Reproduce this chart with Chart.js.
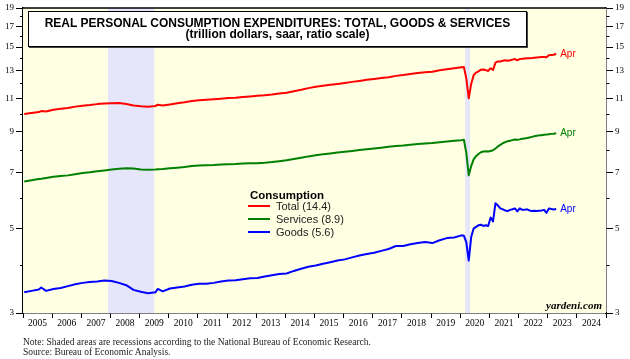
<!DOCTYPE html>
<html>
<head>
<meta charset="utf-8">
<script src="https://cdn.jsdelivr.net/npm/chart.js@4/dist/chart.umd.min.js"></script>
<style>
  body { margin: 0; background: #fff; }
  #wrap { position: relative; width: 630px; height: 359px; overflow: hidden; }
  #c { position: absolute; left: 0; top: 0; }
  .t { position: absolute; white-space: nowrap; }
  #titlebox { position: absolute; left: 28px; top: 11px; width: 497px; height: 34px; background: #fff;
    border: 1px solid #000; box-shadow: 1px 1px 0 #444; }
  .ttl { font: bold 12px "Liberation Sans", Arial, sans-serif; color: #000; text-align: center; width: 497px; left: 0; line-height: 10px; }
  .leg { font: 11px "Liberation Sans", Arial, sans-serif; color: #222; line-height: 14px; }
  .sw { position: absolute; width: 22px; height: 2px; }
  .foot { font: 9.5px "Liberation Serif", "Times New Roman", serif; color: #222; line-height: 10px; left: 23px; }
</style>
</head>
<body>
<div id="wrap">
  <canvas id="c" width="630" height="359"></canvas>
  <div id="titlebox">
    <div class="t ttl" style="top:6px">REAL PERSONAL CONSUMPTION EXPENDITURES: TOTAL, GOODS &amp; SERVICES</div>
    <div class="t ttl" style="top:17px">(trillion dollars, saar, ratio scale)</div>
  </div>
  <div class="t leg" style="left:250px;top:188px;font-weight:bold;font-size:11.5px;color:#000">Consumption</div>
  <div class="sw" style="left:248px;top:205px;background:#ff0000"></div>
  <div class="t leg" style="left:276px;top:199px">Total (14.4)</div>
  <div class="sw" style="left:248px;top:218px;background:#008000"></div>
  <div class="t leg" style="left:276px;top:212px">Services (8.9)</div>
  <div class="sw" style="left:248px;top:231px;background:#0000ff"></div>
  <div class="t leg" style="left:276px;top:225px">Goods (5.6)</div>
  <div class="t" style="left:500px;width:102px;text-align:right;top:299px;line-height:12px;font:italic bold 11px 'Liberation Serif', serif;color:#000">yardeni.com</div>
  <div class="t foot" style="top:337px">Note: Shaded areas are recessions according to the National Bureau of Economic Research.</div>
  <div class="t foot" style="top:346.5px">Source: Bureau of Economic Analysis.</div>
</div>
<script>
// dates (quarterly until 2019, monthly from 2020)
const months = [
  '2005-01','2005-04','2005-07','2005-08','2005-10',
  '2006-01','2006-04','2006-07','2006-10',
  '2007-01','2007-04','2007-07','2007-10',
  '2008-01','2008-04','2008-07','2008-10',
  '2009-01','2009-04','2009-07','2009-08','2009-10',
  '2010-01','2010-04','2010-07','2010-10',
  '2011-01','2011-04','2011-07','2011-10',
  '2012-01','2012-04','2012-07','2012-10',
  '2013-01','2013-04','2013-07','2013-10',
  '2014-01','2014-04','2014-07','2014-10',
  '2015-01','2015-04','2015-07','2015-10',
  '2016-01','2016-04','2016-07','2016-10',
  '2017-01','2017-04','2017-07','2017-10',
  '2018-01','2018-04','2018-07','2018-10',
  '2019-01','2019-04','2019-07','2019-10',
  '2020-01','2020-02','2020-03','2020-04','2020-05','2020-06','2020-07','2020-08','2020-09','2020-10','2020-11','2020-12',
  '2021-01','2021-02','2021-03','2021-04','2021-05','2021-06','2021-07','2021-08','2021-09','2021-10','2021-11','2021-12',
  '2022-01','2022-02','2022-03','2022-04','2022-05','2022-06','2022-07','2022-08','2022-09','2022-10','2022-11','2022-12',
  '2023-01','2023-02','2023-03','2023-04'
];

const total = [
  10.0, 10.07, 10.12, 10.18, 10.16,
  10.27, 10.32, 10.37, 10.46,
  10.52, 10.56, 10.62, 10.66,
  10.67, 10.69, 10.63, 10.53,
  10.48, 10.45, 10.5, 10.58, 10.53,
  10.6, 10.68, 10.74, 10.82,
  10.87, 10.9, 10.93, 10.97,
  11.02, 11.04, 11.08, 11.12,
  11.17, 11.2, 11.25, 11.32,
  11.37, 11.48, 11.58, 11.7,
  11.8, 11.87, 11.94, 12.0,
  12.07, 12.15, 12.22, 12.3,
  12.36, 12.43, 12.5, 12.6,
  12.66, 12.74, 12.82, 12.87,
  12.92, 13.03, 13.12, 13.2,
  13.28, 13.3, 12.4, 11.0, 12.0, 12.65, 12.85, 12.95, 13.08, 13.1, 13.05, 12.98,
  13.2, 13.05, 13.65, 13.75, 13.75, 13.8, 13.85, 13.8, 13.85, 13.9, 13.95, 13.85,
  13.95, 13.97, 14.0, 14.02, 14.02, 14.03, 14.06, 14.08, 14.1, 14.12, 14.12, 14.1,
  14.28, 14.3, 14.32, 14.4
];

const services = [
  6.65, 6.7, 6.75, 6.76, 6.79,
  6.84, 6.87, 6.9, 6.95,
  7.0, 7.03, 7.07, 7.11,
  7.15, 7.18, 7.2, 7.19,
  7.15, 7.14, 7.15, 7.16, 7.17,
  7.2, 7.23, 7.26, 7.3,
  7.32, 7.34, 7.35, 7.37,
  7.38, 7.39, 7.41, 7.42,
  7.43, 7.45, 7.48, 7.52,
  7.56, 7.62, 7.68, 7.74,
  7.79, 7.84, 7.88, 7.92,
  7.96, 8.0, 8.04, 8.08,
  8.12, 8.16, 8.2, 8.24,
  8.27, 8.31, 8.34, 8.37,
  8.39, 8.43, 8.47, 8.51,
  8.54, 8.56, 7.9, 6.9, 7.3, 7.6, 7.75, 7.85, 7.94, 7.97, 7.98, 7.97,
  8.0, 8.03, 8.12, 8.22, 8.3, 8.38, 8.44, 8.48, 8.51, 8.54, 8.57, 8.56,
  8.58, 8.61, 8.63, 8.65, 8.68, 8.71, 8.74, 8.77, 8.79, 8.8, 8.82, 8.83,
  8.85, 8.87, 8.88, 8.9
];

const goods = [
  3.4, 3.43, 3.46, 3.5, 3.43,
  3.47, 3.49, 3.53, 3.57,
  3.6, 3.62, 3.63, 3.65,
  3.64, 3.6, 3.55, 3.45,
  3.41, 3.38, 3.4, 3.47, 3.42,
  3.48, 3.5, 3.52, 3.56,
  3.58, 3.58, 3.6, 3.63,
  3.65, 3.66, 3.68, 3.7,
  3.71, 3.74, 3.77, 3.8,
  3.81, 3.87, 3.92, 3.97,
  4.0, 4.04, 4.08, 4.12,
  4.15, 4.2, 4.25, 4.29,
  4.32, 4.37, 4.42, 4.5,
  4.5, 4.55, 4.58, 4.61,
  4.58, 4.66, 4.72, 4.74,
  4.8, 4.79, 4.6, 4.12, 4.75, 5.0, 5.05, 5.1, 5.12, 5.08, 5.1, 5.08,
  5.35, 5.22, 5.83, 5.75, 5.65, 5.62, 5.58, 5.56, 5.6, 5.62, 5.65, 5.55,
  5.65, 5.6, 5.6, 5.62, 5.58, 5.56, 5.57, 5.56, 5.57, 5.58, 5.6, 5.5,
  5.65, 5.63, 5.61, 5.63
];

// recessions: [first month, last month]
const recessions = [['2007-12', '2009-06'], ['2020-03', '2020-04']];

const yearLabels = [];
for (let y = 2005; y <= 2024; y++) yearLabels.push(y);
const yTicks = [3, 4, 5, 6, 7, 8, 9, 10, 11, 12, 13, 14, 15, 16, 17, 18, 19];

function monthMid(s) {
  const [y, m] = s.split('-').map(Number);
  return y + (m - 0.5) / 12;
}
function monthStart(s) {
  const [y, m] = s.split('-').map(Number);
  return y + (m - 1) / 12;
}
function monthEnd(s) {
  const [y, m] = s.split('-').map(Number);
  return y + m / 12;
}
const pts = arr => arr.map((v, i) => ({ x: monthMid(months[i]), y: v }));

const SERIF = '"Liberation Serif", "Times New Roman", serif';

// fondo amarillo, recesiones y borde superior
const backdrop = {
  id: 'backdrop',
  beforeDatasetsDraw(chart) {
    const { ctx, chartArea: a, scales } = chart;
    ctx.save();
    ctx.fillStyle = '#ffffe3';
    ctx.fillRect(a.left, a.top, a.right - a.left, a.bottom - a.top);
    ctx.fillStyle = '#e6e6fa';
    recessions.forEach(r => {
      const x1 = scales.x.getPixelForValue(monthStart(r[0]));
      const x2 = scales.x.getPixelForValue(monthEnd(r[1]));
      ctx.fillRect(x1, a.top, x2 - x1, a.bottom - a.top);
    });
    ctx.strokeStyle = '#000';
    ctx.lineWidth = 1.5;
    ctx.beginPath();
    ctx.moveTo(a.left, a.top);
    ctx.lineTo(a.right, a.top);
    ctx.stroke();
    ctx.restore();
  },
  afterDatasetsDraw(chart) {
    const ctx = chart.ctx;
    ctx.save();
    ctx.font = '10px "Liberation Sans", Arial, sans-serif';
    ctx.textBaseline = 'middle';
    chart.data.datasets.forEach((ds, i) => {
      const meta = chart.getDatasetMeta(i);
      const last = meta.data[meta.data.length - 1];
      ctx.fillStyle = ds.borderColor;
      ctx.fillText('Apr', last.x + 4, last.y);
    });
    ctx.restore();
  }
};

function yAxis(pos) {
  return {
    type: 'logarithmic',
    position: pos,
    min: 3,
    max: 19,
    afterBuildTicks: s => { s.ticks = yTicks.map(v => ({ value: v })); },
    afterFit: s => { s.width = pos === 'left' ? 23 : 24; },
    ticks: {
      autoSkip: false,
      padding: 2,
      color: '#000',
      font: { family: SERIF, size: 9 },
      callback: v => (v % 2 === 1 ? String(v) : '')
    },
    grid: {
      drawOnChartArea: false,
      tickLength: 7,
      tickColor: '#000',
      tickWidth: 1,
      tickBorderDash: c => (c.tick && c.tick.value % 2 === 0 ? [3, 10] : []),
      tickBorderDashOffset: pos === 'left' ? 9 : 0
    },
    border: { display: true, color: '#000', width: 1.5 }
  };
}

new Chart(document.getElementById('c'), {
  type: 'line',
  data: {
    datasets: [
      { label: 'Total', data: pts(total), borderColor: '#ff0000' },
      { label: 'Services', data: pts(services), borderColor: '#008000' },
      { label: 'Goods', data: pts(goods), borderColor: '#0000ff' }
    ]
  },
  options: {
    responsive: false,
    animation: false,
    layout: { padding: { top: 8, left: 0, right: 0, bottom: 0 } },
    elements: {
      line: { borderWidth: 2, tension: 0, borderJoinStyle: 'round' },
      point: { radius: 0 }
    },
    plugins: { legend: { display: false }, tooltip: { enabled: false } },
    scales: {
      x: {
        type: 'linear',
        min: 2005,
        max: 2025,
        afterBuildTicks: s => {
          const t = [];
          yearLabels.forEach(y => { t.push({ value: y }); t.push({ value: y + 0.5 }); });
          t.push({ value: 2025 });
          s.ticks = t;
        },
        afterFit: s => { s.height = 46; },
        ticks: {
          autoSkip: false,
          maxRotation: 0,
          minRotation: 0,
          padding: 0,
          color: '#000',
          font: { family: SERIF, size: 9.5 },
          callback: v => (Number.isInteger(v) ? '' : String(Math.floor(v)))
        },
        grid: {
          drawOnChartArea: false,
          tickLength: 5,
          tickWidth: 1,
          tickColor: c => (c.tick && Number.isInteger(c.tick.value) ? '#000' : 'rgba(0,0,0,0)')
        },
        border: { display: true, color: '#000', width: 1.5 }
      },
      y: yAxis('left'),
      y2: yAxis('right')
    }
  },
  plugins: [backdrop]
});
</script>
</body>
</html>
